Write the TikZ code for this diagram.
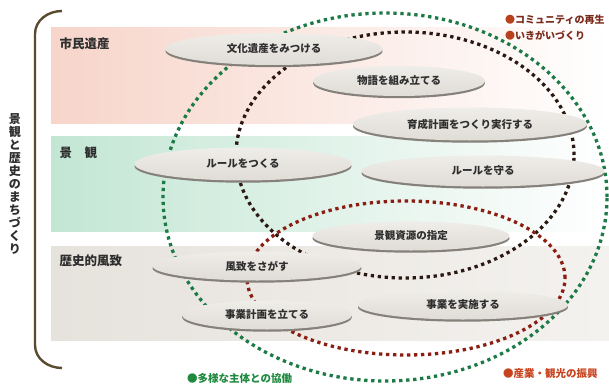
\documentclass[tikz,border=0pt]{standalone}
\usepackage{fontspec}
\setmainfont{Noto Sans CJK JP}
\usetikzlibrary{shapes.geometric,shadows}
\definecolor{pinkL}{HTML}{F7D5CA}
\definecolor{greenL}{HTML}{C3E6D4}
\definecolor{grayL}{HTML}{E6E2DC}
\definecolor{grayR}{HTML}{F4F2EF}
\definecolor{diskT}{HTML}{EFEDE9}
\definecolor{diskB}{HTML}{E0DCD6}
\definecolor{diskRim}{HTML}{85807A}
\definecolor{txt}{HTML}{2E2E2E}
\definecolor{dotG}{HTML}{1B7A45}
\definecolor{dotK}{HTML}{2A1812}
\definecolor{dotR}{HTML}{8A1E12}
\definecolor{brak}{HTML}{5A4A30}
\definecolor{labK}{HTML}{7A2A1A}
\definecolor{dotKR}{HTML}{B8401C}
\definecolor{labG}{HTML}{1F8A3F}
\definecolor{labR}{HTML}{C8431E}
\begin{document}
\begin{tikzpicture}[x=1pt,y=-1pt,
  disk/.style={ellipse, inner sep=0pt, top color=diskT, bottom color=diskB,
    drop shadow={shadow xshift=0pt, shadow yshift=-2.2pt, fill=diskRim, opacity=1},
    font=\fontsize{10.5}{12}\selectfont\bfseries, text=txt},
  bandlab/.style={anchor=west, font=\fontsize{12.5}{14}\selectfont\bfseries, text=txt},
  gdots/.style={draw=dotG, line width=3.3pt, dash pattern=on 3.3pt off 3.7pt},
  kdots/.style={draw=dotK, line width=3.3pt, dash pattern=on 3.3pt off 3.7pt},
  rdots/.style={draw=dotR, line width=3.3pt, dash pattern=on 3.3pt off 3.7pt},
  legend/.style={anchor=west, inner sep=0pt, font=\fontsize{10}{12}\selectfont\bfseries}]
\useasboundingbox (0,0) rectangle (609,385);
\fill[white] (0,0) rectangle (609,385);
% bands
\shade[left color=pinkL, right color=white] (51,28) rectangle (609,123);
\shade[left color=greenL, right color=white] (51,136) rectangle (609,231);
\shade[left color=grayL, right color=grayR] (51,246) rectangle (609,340);
\node[bandlab] (b1) at (56,44) {市民遺産};
\node[bandlab] (b2) at (56,153) {景　観};
\node[bandlab] (b3) at (56,261) {歴史的風致};
% bracket
\draw[brak, line width=2.4pt] (62,11) to[out=180,in=90] (35,34) -- (35,345) to[out=-90,in=180] (62,368);
\node[font=\fontsize{12}{13}\selectfont\bfseries, text=txt, align=center, inner sep=0pt] (vt) at (15,184)
  {景\\観\\と\\歴\\史\\の\\ま\\ち\\づ\\く\\り};
% dotted ellipses
\draw[gdots] (385,197) ellipse [x radius=222pt, y radius=184pt];
\draw[kdots] (405,155) ellipse [x radius=169pt, y radius=123pt];
\draw[rdots] (406,278) ellipse [x radius=159pt, y radius=77pt];
% disks
\node[disk, minimum width=217pt, minimum height=32pt] (d1) at (274,49) {文化遺産をみつける};
\node[disk, minimum width=172pt, minimum height=30pt] (d2) at (399,81) {物語を組み立てる};
\node[disk, minimum width=234pt, minimum height=33pt] (d3) at (470,124) {育成計画をつくり実行する};
\node[disk, minimum width=217pt, minimum height=33pt] (d4) at (243,164) {ルールをつくる};
\node[disk, minimum width=243pt, minimum height=31pt] (d5) at (483,171) {ルールを守る};
\node[disk, minimum width=197pt, minimum height=29pt] (d6) at (411,236) {景観資源の指定};
\node[disk, minimum width=209pt, minimum height=29pt] (d7) at (257,266) {風致をさがす};
\node[disk, minimum width=170pt, minimum height=29pt] (d8) at (267,315) {事業計画を立てる};
\node[disk, minimum width=210pt, minimum height=29pt] (d9) at (463,305) {事業を実施する};
% legends
\node[legend, text=labK] (l1) at (505,20) {{\color{dotKR}●}コミュニティの再生};
\node[legend, text=labK] (l2) at (505,36) {{\color{dotKR}●}いきがいづくり};
\node[legend, text=labG, font=\fontsize{10.5}{12}\selectfont\bfseries] (l3) at (187,378) {●多様な主体との協働};
\node[legend, text=labR, font=\fontsize{10.5}{12}\selectfont\bfseries] (l4) at (503,373) {●産業・観光の振興};
\end{tikzpicture}
\end{document}
